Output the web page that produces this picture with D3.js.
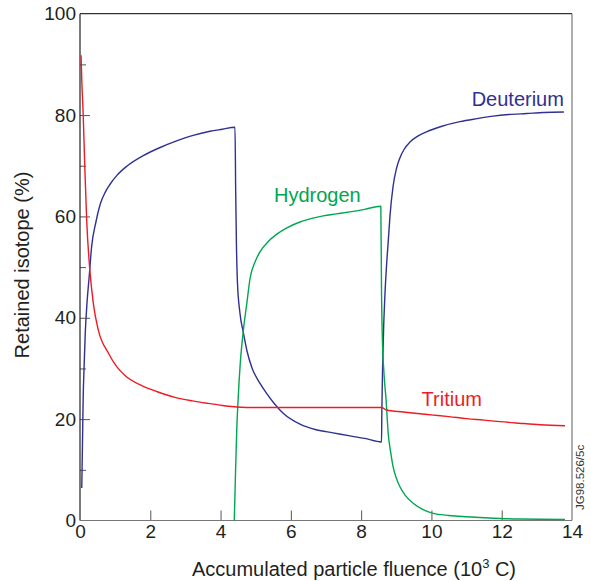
<!DOCTYPE html>
<html>
<head>
<meta charset="utf-8">
<script src="https://cdn.jsdelivr.net/npm/d3@7"></script>
<style>
  html, body { margin: 0; padding: 0; background: #fff; }
  svg { display: block; font-family: "Liberation Sans", Arial, sans-serif; }
</style>
</head>
<body>
<svg id="chart" width="591" height="581"></svg>
<script>
// ---- data ----
const xTicks = [0, 2, 4, 6, 8, 10, 12, 14];
const yTicks = [0, 20, 40, 60, 80, 100];
const yMinorTicks = [10, 30, 50, 70, 90];

const deuteriumX = [0.05,0.07,0.09,0.12,0.15,0.20,0.26,0.33,0.45,0.57,0.72,0.85,1.05,1.33,1.80,2.28,2.75,3.22,3.70,4.05,4.41,
  4.43,4.45,4.48,4.55,4.65,4.75,4.90,5.10,5.31,5.55,5.79,6.26,6.72,7.20,7.68,8.10,8.58,
  8.59,8.61,8.64,8.68,8.72,8.77,8.82,8.91,9.00,9.10,9.22,9.39,9.60,9.86,10.30,10.81,11.30,11.76,12.20,12.71,13.20,13.77];
const deuteriumY = [6.4,15,24,31,37,43,48,54,58.8,62.3,64.8,66.3,68.1,69.9,72.0,73.6,74.9,76.0,76.8,77.2,77.6,
  65,55,47,41,37,33.5,30,27.3,25.1,22.9,21.1,19.0,17.9,17.3,16.7,16.2,15.5,
  22,30,38,45,50,55,60,66,69.3,71.5,73.2,74.7,75.8,76.7,77.8,78.7,79.3,79.8,80.1,80.3,80.5,80.6];

const hydrogenX = [4.39,4.42,4.46,4.50,4.56,4.65,4.75,4.84,4.98,5.12,5.35,5.60,5.90,6.26,6.60,6.92,7.30,7.68,8.10,8.56,
  8.58,8.60,8.65,8.71,8.77,8.84,8.91,9.00,9.10,9.25,9.48,9.75,10.05,10.50,11.00,11.50,11.95,12.50,13.10,13.80];
const hydrogenY = [0,8,17.8,24,31,37.6,43,47.8,51.0,53.0,55.0,56.5,57.8,58.9,59.6,60.1,60.5,60.9,61.4,62.0,
  45,37,29,23.8,17.2,13.5,10.6,8.4,6.7,5.0,3.4,2.2,1.4,1.0,0.75,0.55,0.4,0.3,0.25,0.2];

const tritiumX = [0.03,0.05,0.09,0.14,0.19,0.28,0.38,0.52,0.81,1.05,1.28,1.76,2.20,2.70,3.20,3.65,4.05,4.46,5.0,6.0,7.0,8.0,8.58,
  8.72,9.20,9.60,10.05,10.50,11.00,11.50,11.95,12.50,13.10,13.80];
const tritiumY = [91.8,87,80.3,69,59.3,49.4,42.8,37.6,33.0,30.3,28.6,26.6,25.4,24.3,23.6,23.1,22.7,22.4,22.3,22.3,22.3,22.3,22.3,
  21.8,21.4,21.1,20.8,20.5,20.1,19.8,19.5,19.2,18.9,18.7];

const seriesNames = ["Deuterium", "Hydrogen", "Tritium"];
const seriesColors = ["#2e3192", "#00a651", "#ed1c24"];

// ---- chart ----
const svg = d3.select("#chart");
const x = d3.scaleLinear().domain([0, 14]).range([80, 572]);
const y = d3.scaleLinear().domain([0, 100]).range([520.5, 13.7]);

const tickColor = "#555";
const textColor = "#231f20";

// y axis major
const gy = svg.append("g").attr("transform", `translate(${x(0)},0)`)
  .call(d3.axisLeft(y).tickValues(yTicks).tickSize(-10).tickPadding(4).tickFormat(d3.format("d")));
gy.select(".domain").remove();
gy.selectAll(".tick line").attr("stroke", tickColor);
gy.selectAll(".tick text").attr("font-size", 19).attr("fill", textColor).attr("font-family", "Liberation Sans, Arial, sans-serif");
gy.selectAll(".tick").filter(d => d === 0 || d === 100).select("line").remove();

// y axis minor
const gym = svg.append("g").attr("transform", `translate(${x(0)},0)`)
  .call(d3.axisLeft(y).tickValues(yMinorTicks).tickSize(-6).tickFormat(""));
gym.select(".domain").remove();
gym.selectAll(".tick line").attr("stroke", tickColor);

// x axis
const gx = svg.append("g").attr("transform", `translate(0,${y(0)})`)
  .call(d3.axisBottom(x).tickValues(xTicks).tickSize(-10).tickPadding(4).tickFormat(d3.format("d")));
gx.select(".domain").remove();
gx.selectAll(".tick line").attr("stroke", tickColor);
gx.selectAll(".tick text").attr("font-size", 19).attr("fill", textColor).attr("font-family", "Liberation Sans, Arial, sans-serif");
gx.selectAll(".tick").filter(d => d === 0 || d === 14).select("line").remove();

// frame
const frame = svg.append("g").attr("fill", "none").attr("stroke-width", 1.2);
frame.append("line").attr("x1", x(0)).attr("x2", x(14)).attr("y1", y(100)).attr("y2", y(100)).attr("stroke", "#333");
frame.append("line").attr("x1", x(0)).attr("x2", x(0)).attr("y1", y(100)).attr("y2", y(0)).attr("stroke", "#222");
frame.append("line").attr("x1", x(14)).attr("x2", x(14)).attr("y1", y(100)).attr("y2", y(0)).attr("stroke", "#777");
frame.append("line").attr("x1", x(0)).attr("x2", x(14)).attr("y1", y(0)).attr("y2", y(0)).attr("stroke", "#777");

// series
const seriesData = [
  d3.zip(deuteriumX, deuteriumY),
  d3.zip(hydrogenX, hydrogenY),
  d3.zip(tritiumX, tritiumY)
];
const line = d3.line().x(d => x(d[0])).y(d => y(d[1])).curve(d3.curveMonotoneX);
svg.append("g").selectAll("path").data(seriesData).join("path")
  .attr("d", line)
  .attr("fill", "none")
  .attr("stroke", (d, i) => seriesColors[i])
  .attr("stroke-width", 1.4)
  .attr("stroke-linejoin", "round");

// series labels
const labelPos = [
  { xv: 13.77, yv: 81.8, anchor: "end" },   // Deuterium
  { xv: 5.52, yv: 62.8, anchor: "start" },  // Hydrogen
  { xv: 9.72, yv: 22.5, anchor: "start" }   // Tritium
];
svg.append("g").selectAll("text").data(seriesNames).join("text")
  .attr("x", (d, i) => x(labelPos[i].xv))
  .attr("y", (d, i) => y(labelPos[i].yv))
  .attr("text-anchor", (d, i) => labelPos[i].anchor)
  .attr("font-size", 20)
  .attr("fill", (d, i) => seriesColors[i])
  .text(d => d);

// axis titles
svg.append("text")
  .attr("transform", "translate(29,265) rotate(-90)")
  .attr("text-anchor", "middle")
  .attr("font-size", 20)
  .attr("fill", textColor)
  .text("Retained isotope (%)");

const xt = svg.append("text")
  .attr("x", 354).attr("y", 576)
  .attr("text-anchor", "middle")
  .attr("font-size", 20)
  .attr("fill", textColor);
xt.append("tspan").text("Accumulated particle fluence (10");
xt.append("tspan").attr("font-size", 13).attr("dy", -8).text("3");
xt.append("tspan").attr("dy", 8).text(" C)");

// figure code
svg.append("text")
  .attr("transform", "translate(584,510) rotate(-90)")
  .attr("text-anchor", "start")
  .attr("font-size", 11.5)
  .attr("fill", "#333")
  .text("JG98.526/5c");
</script>
</body>
</html>
